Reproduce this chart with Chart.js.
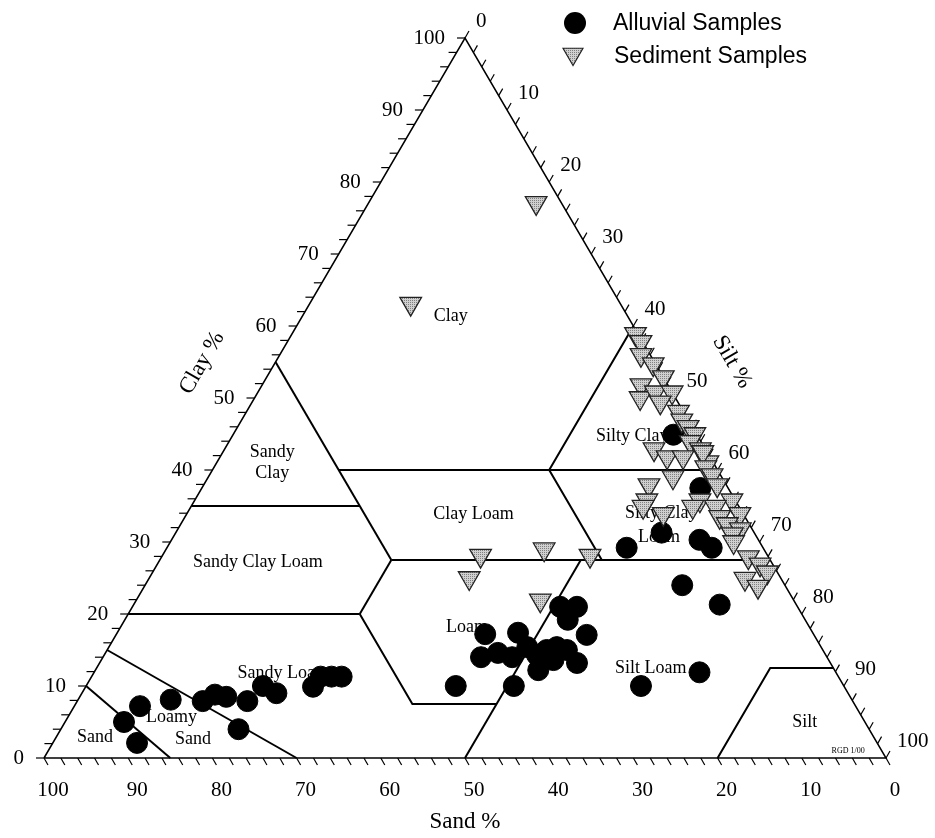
<!DOCTYPE html>
<html>
<head>
<meta charset="utf-8">
<title>Soil texture triangle</title>
<script src="https://cdn.jsdelivr.net/npm/chart.js"></script>
<style>
    html, body { margin: 0; padding: 0; background: #fff; }
    #wrap { width: 935px; height: 838px; }
</style>
</head>
<body>
<div id="wrap"><canvas id="chart" width="935" height="838"></canvas></div>
<script>
// Sample data (sand %, clay %); silt = 100 - sand - clay
const alluvialSand = [88.0, 87.9, 85.0, 80.9, 77.2, 75.3, 74.1, 74.9, 71.9, 69.0, 67.9, 63.1, 61.5, 60.2, 59.0,
    46.1, 39.2, 39.0, 41.1, 38.8, 35.0, 37.4, 34.9, 35.2, 34.3, 32.7, 28.2, 26.2, 28.2, 27.0, 30.1, 30.4, 31.4, 32.8,
    2.8, 3.3, 11.0, 16.2, 7.0, 6.1, 12.2, 9.1, 24.1, 16.2];
const alluvialClay = [5.0, 2.1, 7.2, 8.1, 7.9, 8.8, 8.5, 4.0, 7.9, 10.0, 9.0, 9.9, 11.3, 11.3, 11.3,
    10.0, 10.0, 17.2, 14.0, 14.6, 17.4, 14.0, 15.4, 12.2, 14.3, 13.6, 21.0, 21.0, 19.2, 17.1, 13.2, 15.0, 15.4, 15.0,
    44.9, 37.5, 31.3, 29.2, 30.3, 29.2, 24.0, 21.3, 10.0, 11.9];

const sedimentSand = [0.3, 0.2, 1.1, 0.3, 0.0, 3.2, 4.2, 2.0, 0.0, 2.1, 0.6, 0.8, 0.5, 0.2, 1.3, 6.1, 0.6, 5.1, 3.2, 0.6,
    0.5, 1.2, 5.8, 1.0, 9.2, 1.1, 10.5, 4.2, 0.4, 11.4, 5.5, 2.8, 9.5, 0.4, 3.0, 2.6, 1.4, 2.7, 3.1, 2.4, 1.5, 1.2, 4.3, 3.3,
    34.1, 26.1, 21.1, 37.0, 30.1, 24.9, 3.0];
const sedimentClay = [58.9, 57.8, 56.0, 54.7, 52.9, 51.8, 50.0, 50.8, 50.8, 49.4, 48.1, 46.9, 46.0, 45.0, 43.9, 42.9, 42.9, 41.8, 41.8, 41.1,
    42.5, 40.4, 39.0, 39.3, 37.9, 37.9, 35.8, 35.8, 35.8, 34.9, 34.9, 34.9, 33.9, 33.9, 33.5, 32.5, 31.8, 31.1, 30.0, 27.9, 26.9, 25.8, 24.9, 23.8,
    28.1, 29.0, 28.1, 25.0, 21.9, 63.1, 77.1];

// Axis ticks
const tickValues = [0, 10, 20, 30, 40, 50, 60, 70, 80, 90, 100];
const minorTickStep = 2;

// Triangle frame and texture class boundaries, as [sand, clay] points
const frameLine = [[100, 0], [0, 0], [0, 100], [100, 0]];
const classLines = [
    [[90, 10], [85, 0]],
    [[85, 15], [70, 0]],
    [[80, 20], [52.5, 20]],
    [[52.5, 20], [52.5, 7.5], [42.5, 7.5]],
    [[50, 0], [22.5, 27.5]],
    [[65, 35], [45, 35]],
    [[45, 55], [45, 27.5]],
    [[45, 27.5], [52.5, 20]],
    [[45, 27.5], [0, 27.5]],
    [[45, 40], [0, 40]],
    [[0, 60], [20, 40], [20, 27.5]],
    [[20, 0], [7.5, 12.5], [0, 12.5]]
];

// Class names and where they sit, [sand, clay]
const classNames = ['Clay', 'Sandy', 'Clay', 'Sandy Clay Loam', 'Clay Loam', 'Silty Clay', 'Silty Clay', 'Loam',
    'Loam', 'Sandy Loam', 'Loamy', 'Sand', 'Sand', 'Silt Loam', 'Silt'];
const classSpots = [[21.0, 61.4], [51.7, 42.4], [53.1, 39.6], [61.0, 27.2], [32.1, 33.8], [7.8, 44.7], [9.7, 34.0], [11.6, 30.7],
    [40.7, 18.1], [65.7, 11.8], [82.0, 5.7], [81.0, 2.6], [92.5, 2.9], [21.7, 12.5], [7.2, 4.9]];

const legendNames = ['Alluvial Samples', 'Sediment Samples'];

// ternary -> plot units
function toXY(sand, clay) {
    return { x: 100 - sand - clay / 2, y: clay };
}

function stipple() {
    const c = document.createElement('canvas');
    c.width = 2;
    c.height = 2;
    const g = c.getContext('2d');
    g.fillStyle = '#d0d0d0';
    g.fillRect(0, 0, 2, 2);
    g.fillStyle = '#808080';
    g.fillRect(0, 0, 1, 1);
    return g.createPattern(c, 'repeat');
}

const sedimentFill = stipple();
const serif = '"Liberation Serif", "Times New Roman", serif';
const sans = '"Liberation Sans", Arial, sans-serif';

function strokeLine(ctx, x1, y1, x2, y2) {
    ctx.beginPath();
    ctx.moveTo(x1, y1);
    ctx.lineTo(x2, y2);
    ctx.stroke();
}

// ticks, tick labels, class names and axis titles
const ternaryFrame = {
    id: 'ternaryFrame',
    beforeDatasetsDraw(chart) {
        const { ctx, scales } = chart;
        const px = (sand, clay) => {
            const p = toXY(sand, clay);
            return [scales.x.getPixelForValue(p.x), scales.y.getPixelForValue(p.y)];
        };
        ctx.save();
        ctx.strokeStyle = '#000';
        ctx.lineWidth = 1.2;
        for (let v = 0; v <= 100; v += minorTickStep) {
            const [cx, cy] = px(100 - v, v);
            strokeLine(ctx, cx, cy, cx - 8, cy);
            const [sx, sy] = px(v, 0);
            strokeLine(ctx, sx, sy, sx + 4, sy + 7);
            const [tx, ty] = px(0, 100 - v);
            strokeLine(ctx, tx, ty, tx + 4, ty - 7);
        }

        ctx.fillStyle = '#000';
        ctx.font = '21px ' + serif;
        ctx.textBaseline = 'middle';
        tickValues.forEach(v => {
            const [cx, cy] = px(100 - v, v);
            ctx.textAlign = 'right';
            ctx.fillText(String(v), cx - 20, cy);
            const [sx, sy] = px(v, 0);
            ctx.textAlign = 'center';
            ctx.fillText(String(v), sx + 9, sy + 32);
            const [tx, ty] = px(0, 100 - v);
            ctx.textAlign = 'left';
            ctx.fillText(String(v), tx + 11, ty - 17);
        });

        ctx.font = '18px ' + serif;
        ctx.textAlign = 'center';
        classNames.forEach((name, i) => {
            const [lx, ly] = px(classSpots[i][0], classSpots[i][1]);
            ctx.fillText(name, lx, ly);
        });
        ctx.font = '8px ' + serif;
        const [rx, ry] = px(4.0, 1.0);
        ctx.fillText('RGD 1/00', rx, ry);

        // axis titles
        ctx.font = '23px ' + serif;
        const [bx, by] = [scales.x.getPixelForValue(50), scales.y.getPixelForValue(-8.9)];
        ctx.fillText('Sand %', bx, by);
        ctx.save();
        ctx.translate(202, 363);
        ctx.rotate(-Math.PI / 3);
        ctx.fillText('Clay %', 0, 0);
        ctx.restore();
        ctx.save();
        ctx.translate(732, 362);
        ctx.rotate(Math.PI / 3);
        ctx.fillText('Silt %', 0, 0);
        ctx.restore();
        ctx.restore();
    },
    afterDraw(chart) {
        const { ctx } = chart;
        ctx.save();
        // circle key
        ctx.fillStyle = '#000';
        ctx.beginPath();
        ctx.arc(575, 23, 11, 0, Math.PI * 2);
        ctx.fill();
        // triangle key
        const r = 11.5;
        ctx.beginPath();
        ctx.moveTo(573, 54 + r);
        ctx.lineTo(573 - r * Math.sin(Math.PI / 3), 54 - r / 2);
        ctx.lineTo(573 + r * Math.sin(Math.PI / 3), 54 - r / 2);
        ctx.closePath();
        ctx.fillStyle = sedimentFill;
        ctx.fill();
        ctx.strokeStyle = '#222';
        ctx.lineWidth = 1.2;
        ctx.stroke();

        ctx.fillStyle = '#000';
        ctx.font = '23px ' + sans;
        ctx.textAlign = 'left';
        ctx.textBaseline = 'alphabetic';
        ctx.fillText(legendNames[0], 613, 30);
        ctx.fillText(legendNames[1], 614, 63);
        ctx.restore();
    }
};

const lineSets = classLines.map(seg => ({
    type: 'line',
    data: seg.map(p => toXY(p[0], p[1])),
    borderColor: '#000',
    borderWidth: 2,
    pointRadius: 0,
    fill: false,
    order: 3
}));

lineSets.push({
    type: 'line',
    data: frameLine.map(p => toXY(p[0], p[1])),
    borderColor: '#000',
    borderWidth: 1.5,
    pointRadius: 0,
    fill: false,
    order: 3
});

new Chart(document.getElementById('chart'), {
    type: 'scatter',
    data: {
        datasets: [
            {
                label: legendNames[1],
                data: sedimentSand.map((s, i) => toXY(s, sedimentClay[i])),
                pointStyle: 'triangle',
                pointRotation: 180,
                pointRadius: 12.5,
                pointBorderWidth: 1.3,
                pointBorderColor: '#222',
                pointBackgroundColor: sedimentFill,
                clip: false,
                order: 1
            },
            {
                label: legendNames[0],
                data: alluvialSand.map((s, i) => toXY(s, alluvialClay[i])),
                pointStyle: 'circle',
                pointRadius: 10.5,
                pointBorderWidth: 1,
                pointBorderColor: '#000',
                pointBackgroundColor: '#000',
                clip: false,
                order: 2
            },
            ...lineSets
        ]
    },
    options: {
        responsive: false,
        animation: false,
        devicePixelRatio: 1,
        events: [],
        layout: { padding: 0, autoPadding: false },
        plugins: {
            legend: { display: false },
            tooltip: { enabled: false }
        },
        scales: {
            x: { type: 'linear', min: -5.2257, max: 105.8195, display: false },
            y: { type: 'linear', min: -11.1111, max: 105.2778, display: false }
        }
    },
    plugins: [ternaryFrame]
});
</script>
</body>
</html>
